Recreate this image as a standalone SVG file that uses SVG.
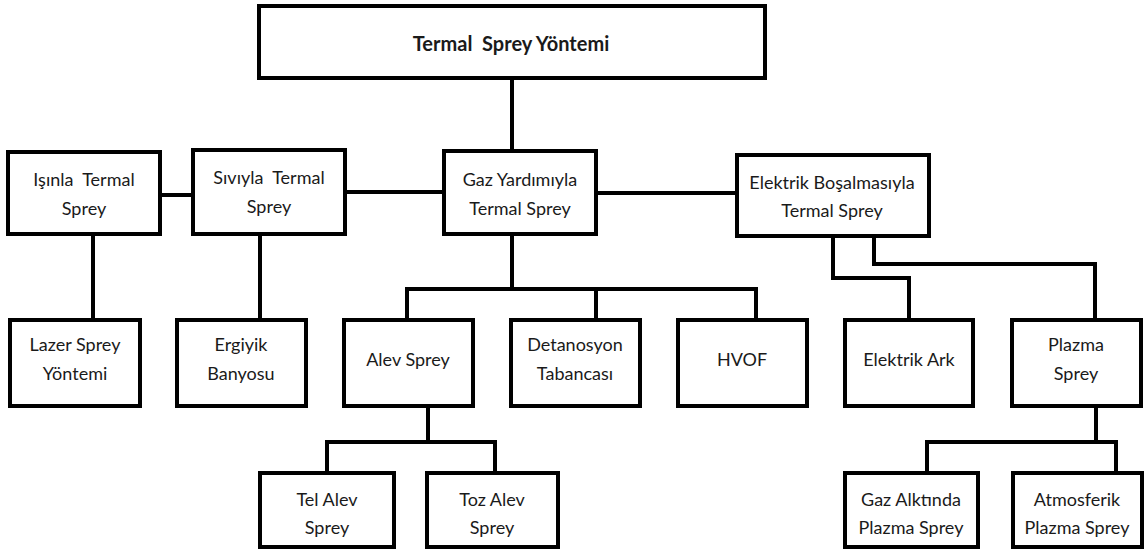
<svg xmlns="http://www.w3.org/2000/svg" width="1146" height="550" viewBox="0 0 1146 550">
<style>
.box{fill:#fff;stroke:#000;stroke-width:4}
.ln{fill:none;stroke:#000;stroke-width:4}
text{font-family:Lato,"Liberation Sans",sans-serif;font-size:18px;fill:#1a1a1a;text-anchor:middle;white-space:pre}
.t{font-weight:bold;font-size:20px}
</style>
<rect width="1146" height="550" fill="#fff"/>
<g id="connectors">
<path class="ln" d="M512 78V151"/>
<path class="ln" d="M160 195H193M345 192H444M596 193H737"/>
<path class="ln" d="M93 234V320M260 234V320"/>
<path class="ln" d="M512 234V289M407 320V289H756V320M596 289V320"/>
<path class="ln" d="M833 236V278H909V320M874 236V264H1095V320"/>
<path class="ln" d="M428 406V442M327 473V442H495V473"/>
<path class="ln" d="M1096 406V442M927 473V442H1116V473"/>
</g>
<g id="n-top"><rect class="box" x="259" y="6" width="506" height="72"/><text class="t" x="511" y="51" xml:space="preserve">Termal  Sprey Yöntemi</text></g>
<g id="n-isinla"><rect class="box" x="8" y="152" width="152" height="82"/><text x="84" y="186" xml:space="preserve">Işınla  Termal</text><text x="84" y="215">Sprey</text></g>
<g id="n-siviyla"><rect class="box" x="193" y="150" width="152" height="84"/><text x="269" y="184" xml:space="preserve">Sıvıyla  Termal</text><text x="269" y="213">Sprey</text></g>
<g id="n-gaz"><rect class="box" x="444" y="151" width="152" height="83"/><text x="520" y="186">Gaz Yardımıyla</text><text x="520" y="215">Termal Sprey</text></g>
<g id="n-elektrik"><rect class="box" x="737" y="155" width="192" height="81"/><text x="832" y="189">Elektrik Boşalmasıyla</text><text x="832" y="217">Termal Sprey</text></g>
<g id="n-lazer"><rect class="box" x="10" y="320" width="130" height="86"/><text x="75" y="351">Lazer Sprey</text><text x="75" y="380">Yöntemi</text></g>
<g id="n-ergiyik"><rect class="box" x="177" y="320" width="129" height="86"/><text x="241" y="351">Ergiyik</text><text x="241" y="380">Banyosu</text></g>
<g id="n-alev"><rect class="box" x="344" y="320" width="129" height="86"/><text x="408" y="366">Alev Sprey</text></g>
<g id="n-detanosyon"><rect class="box" x="511" y="320" width="129" height="86"/><text x="575" y="351">Detanosyon</text><text x="575" y="380">Tabancası</text></g>
<g id="n-hvof"><rect class="box" x="678" y="320" width="129" height="86"/><text x="742" y="366">HVOF</text></g>
<g id="n-ark"><rect class="box" x="845" y="320" width="128" height="86"/><text x="909" y="366">Elektrik Ark</text></g>
<g id="n-plazma"><rect class="box" x="1012" y="320" width="129" height="86"/><text x="1076" y="351">Plazma</text><text x="1076" y="380">Sprey</text></g>
<g id="n-tel"><rect class="box" x="260" y="473" width="134" height="74"/><text x="327" y="506">Tel Alev</text><text x="327" y="534">Sprey</text></g>
<g id="n-toz"><rect class="box" x="427" y="473" width="131" height="74"/><text x="492" y="506">Toz Alev</text><text x="492" y="534">Sprey</text></g>
<g id="n-gazalt"><rect class="box" x="845" y="473" width="133" height="74"/><text x="911" y="506">Gaz Alktında</text><text x="911" y="534">Plazma Sprey</text></g>
<g id="n-atmos"><rect class="box" x="1013" y="473" width="129" height="74"/><text x="1077" y="506">Atmosferik</text><text x="1077" y="534">Plazma Sprey</text></g>
</svg>
